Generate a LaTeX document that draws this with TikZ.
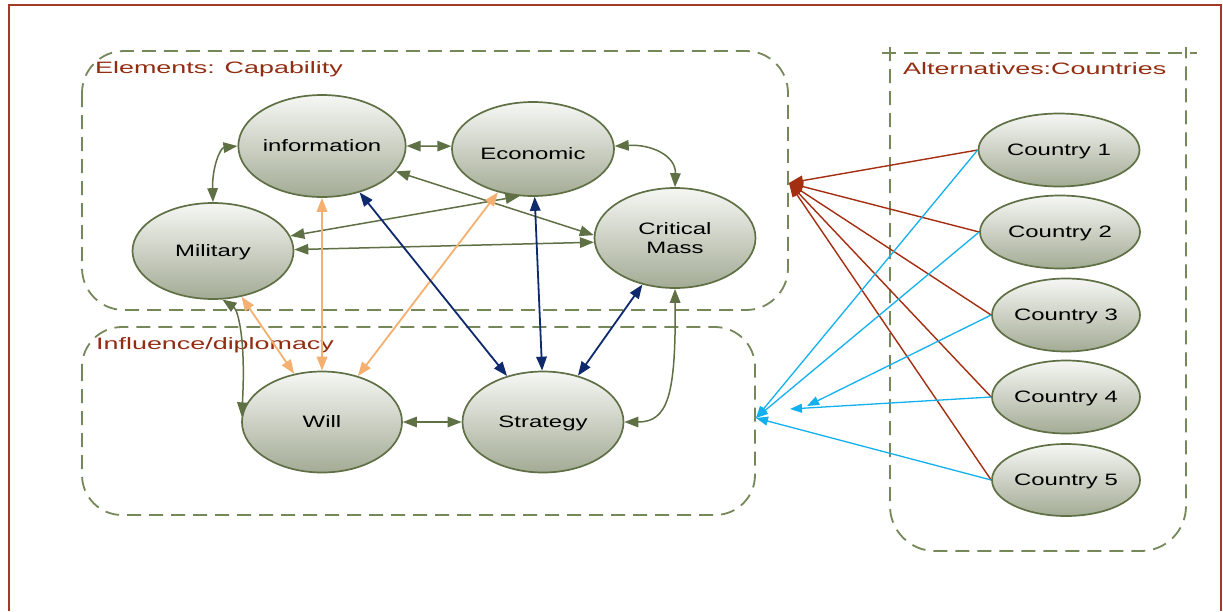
\documentclass[tikz,border=0pt]{standalone}
\usepackage{fontspec}
\newfontfamily\nodefont[FakeStretch=1.45]{Liberation Sans}
\newfontfamily\labfont[FakeStretch=1.63]{Liberation Sans}
\usetikzlibrary{shapes.geometric,arrows.meta}
\definecolor{cEdge}{HTML}{5F7045}
\definecolor{cTop}{HTML}{F6F7F4}
\definecolor{cBot}{HTML}{A3AB95}
\definecolor{cGrp}{HTML}{76885A}
\definecolor{cFrame}{HTML}{A03C26}
\definecolor{cLab}{HTML}{922D12}
\definecolor{cGreen}{HTML}{5F7045}
\definecolor{cOrange}{HTML}{F3B070}
\definecolor{cNavy}{HTML}{0F2A6C}
\definecolor{cRed}{HTML}{A32E10}
\definecolor{cCyan}{HTML}{12B0EE}
\begin{document}
\begin{tikzpicture}[x=1pt,y=-1pt,
  ell/.style={ellipse, draw=cEdge, line width=1.7pt, top color=cTop, bottom color=cBot,
    inner sep=0pt, font=\nodefont\fontsize{16.5}{19}\selectfont, text depth=0pt, align=center},
  grp/.style={draw=cGrp, line width=1.8pt, dash pattern=on 14pt off 8pt},
  lab/.style={text=cLab, font=\labfont\fontsize{16.5}{19}\selectfont, anchor=base west, inner sep=0pt},
  gline/.style={draw=cGreen, line width=1.5pt, {Triangle[length=14pt,width=10.5pt]}-{Triangle[length=14pt,width=10.5pt]}},
  oline/.style={draw=cOrange, line width=1.8pt, {Triangle[length=14pt,width=10.5pt]}-{Triangle[length=14pt,width=10.5pt]}},
  nline/.style={draw=cNavy, line width=1.8pt, {Triangle[length=14pt,width=10.5pt]}-{Triangle[length=14pt,width=10.5pt]}},
  rline/.style={draw=cRed, line width=1.4pt, -{Triangle[length=14pt,width=10pt]}},
  cline/.style={draw=cCyan, line width=1.3pt, -{Triangle[length=12pt,width=9pt]}}
]
\useasboundingbox (0,0) rectangle (1223,611);
\fill[white] (0,0) rectangle (1223,611);
% frame
\draw[cFrame, line width=1.8pt] (9,611) -- (9,5) -- (1221,5) -- (1221,611);

% group boxes
\draw[grp, rounded corners=42pt] (82,51) rectangle (788,310);
\draw[grp, rounded corners=40pt] (82,327) rectangle (755,515);
\draw[grp] (882,53) -- (1197,53);
\draw[grp, rounded corners=45pt] (890,47) -- (890,551) -- (1186,551) -- (1186,47);

% group labels
\node[lab] (labA) at (95,73) {Elements: Capability};
\node[lab] (labB) at (96,349) {Influence/diplomacy};
\node[lab] (labC) at (903,74) {Alternatives:Countries};

% element nodes
\node[ell, minimum width=161pt, minimum height=102pt] (info) at (322,146) {information};
\node[ell, minimum width=162pt, minimum height=94pt] (eco) at (533,149) {\raisebox{-10pt}{Economic}};
\node[ell, minimum width=161pt, minimum height=100pt] (cm) at (675,238) {Critical\\Mass};
\node[ell, minimum width=161pt, minimum height=96pt] (mil) at (213,251) {Military};
\node[ell, minimum width=160pt, minimum height=101pt] (will) at (322,422) {Will};
\node[ell, minimum width=161pt, minimum height=101pt] (strat) at (543,422) {Strategy};

% country nodes
\node[ell, minimum width=161pt, minimum height=73pt] (c1) at (1059,150) {Country 1};
\node[ell, minimum width=160pt, minimum height=73pt] (c2) at (1060,232) {Country 2};
\node[ell, minimum width=148pt, minimum height=73pt] (c3) at (1066,315) {Country 3};
\node[ell, minimum width=148pt, minimum height=73pt] (c4) at (1066,397) {Country 4};
\node[ell, minimum width=148pt, minimum height=72pt] (c5) at (1066,480) {Country 5};

% target coordinates on the group boxes
\coordinate (eT) at (789,183);
\coordinate (iT) at (756,418);
\coordinate (iT3) at (807,406);
\coordinate (iT4) at (790,409);

% green connectors
\draw[gline] (info.west) .. controls (220,148) and (212,168) .. (mil.north);
\draw[gline] (info.east) -- (eco.178);
\draw[gline] (eco.2) .. controls (652,144) and (676,156) .. (cm.north);
\draw[gline] (info.-19) -- (cm.178);
\draw[gline] (eco.-106) -- (mil.11);
\draw[gline] (cm.183) -- (mil.1);
\draw[gline] (mil.-79) .. controls (238,310) and (246,340) .. (will.176);
\draw[gline] (will.east) -- (strat.west);
\draw[gline] (cm.south) .. controls (676,395) and (668,422) .. (strat.east);

% orange connectors
\draw[oline] (info.south) -- (will.north);
\draw[oline] (mil.-58) -- (will.120);
\draw[oline] (eco.-129) -- (will.52);

% navy connectors
\draw[nline] (info.-51) -- (strat.128);
\draw[nline] (eco.-88) -- (strat.91);
\draw[nline] (cm.-125) -- (strat.53);

% country connectors to capability
\foreach \c in {c1,c2,c3,c4,c5} \draw[rline] (\c.west) -- (eT);
% country connectors to influence
\draw[cline] (c1.west) -- (iT);
\draw[cline] (c2.west) -- (iT);
\draw[cline] (c3.west) -- (iT3);
\draw[cline] (c4.west) -- (iT4);
\draw[cline] (c5.west) -- (iT);
\end{tikzpicture}
\end{document}
